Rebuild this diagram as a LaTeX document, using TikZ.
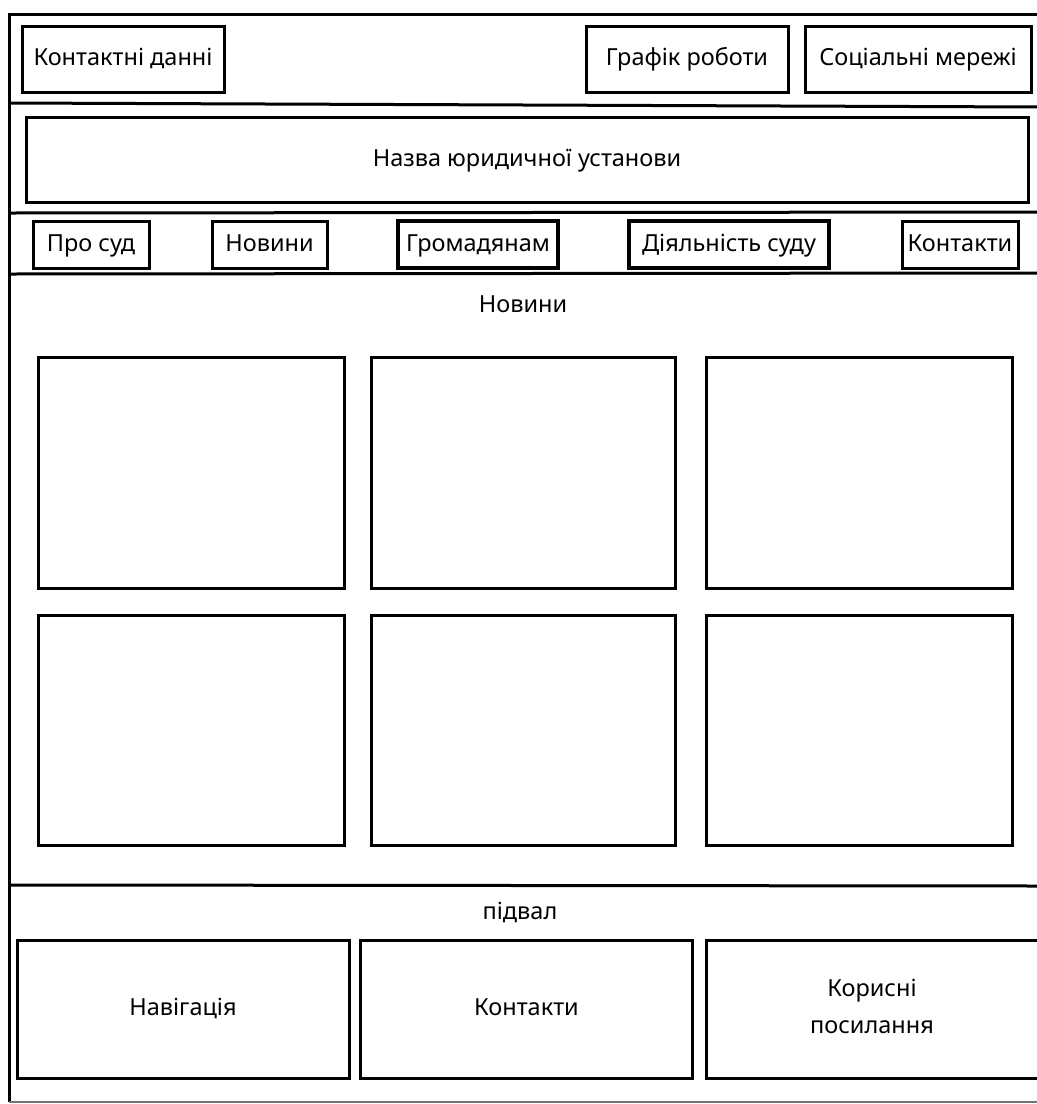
\documentclass[tikz,border=0pt]{standalone}
\usepackage{fontspec}
\setmainfont{Noto Sans}
\begin{document}
\begin{tikzpicture}[x=1pt,y=-1pt,
  fnt/.style={font=\fontsize{23.5}{28}\selectfont, text height=17pt, text depth=4pt},
  box/.style={draw=black, line width=3pt, fill=white, inner sep=0pt, fnt},
  thickbox/.style={box, line width=4.5pt},
  sep/.style={line width=3pt, black},
  lbl/.style={inner sep=0pt, fnt},
  pic/.style={draw=black, line width=3pt, inner sep=0pt}]
\useasboundingbox (0,0) rectangle (1037,1104);
\fill[white] (0,0) rectangle (1037,1104);
% frame
\coordinate (tl) at (9,14);
\coordinate (tr) at (1040,14);
\coordinate (bl) at (9,1102);
\coordinate (br) at (1040,1102);
\draw[sep] (tr) -- (tl) -- (bl);
\draw[line width=2pt, black!55] (bl) -- (br);
% separators
\coordinate (s1l) at (9,103); \coordinate (s1r) at (1040,107);
\coordinate (s2l) at (9,213); \coordinate (s2r) at (1040,212);
\coordinate (s3l) at (9,274); \coordinate (s3r) at (1040,273);
\coordinate (s4l) at (9,885); \coordinate (s4r) at (1040,886);
\draw[sep] (s1l) -- (s1r);
\draw[sep] (s2l) -- (s2r);
\draw[sep] (s3l) -- (s3r);
\draw[sep] (s4l) -- (s4r);
% top row
\node[box, minimum width=202pt, minimum height=66pt] (contact) at (123,59) {Контактні данні};
\node[box, minimum width=202pt, minimum height=66pt] (sched) at (687,59) {Графік роботи};
\node[box, minimum width=226pt, minimum height=66pt] (social) at (918,59) {Соціальні мережі};
% name
\node[box, minimum width=1002pt, minimum height=85pt] (name) at (527,159.5) {Назва юридичної установи};
% nav
\node[box, minimum width=116pt, minimum height=47pt] (about) at (91,244.5) {Про суд};
\node[box, minimum width=115pt, minimum height=47pt] (news) at (269.5,244.5) {Новини};
\node[thickbox, minimum width=160pt, minimum height=47pt] (citizens) at (478,244.5) {Громадянам};
\node[thickbox, minimum width=200pt, minimum height=47pt] (activity) at (729,244.5) {Діяльність суду};
\node[box, minimum width=116pt, minimum height=47pt] (contacts) at (960,244.5) {Контакти};
% news section
\node[lbl] (newshead) at (523,306) {Новини};
\node[pic, minimum width=306pt, minimum height=231pt] (n1) at (191,472.5) {};
\node[pic, minimum width=304pt, minimum height=231pt] (n2) at (523,472.5) {};
\node[pic, minimum width=306pt, minimum height=231pt] (n3) at (859,472.5) {};
\node[pic, minimum width=306pt, minimum height=230pt] (n4) at (191,730) {};
\node[pic, minimum width=304pt, minimum height=230pt] (n5) at (523,730) {};
\node[pic, minimum width=306pt, minimum height=230pt] (n6) at (859,730) {};
% footer
\node[lbl] (footer) at (520,913) {підвал};
\node[box, minimum width=332pt, minimum height=138pt] (fnav) at (183,1009) {Навігація};
\node[box, minimum width=332pt, minimum height=138pt] (fcont) at (526.5,1009) {Контакти};
\node[draw=black, line width=3pt, fill=white, inner sep=0pt, minimum width=332pt, minimum height=138pt] (flinks) at (872,1009) {};
\node[lbl] (flinks1) at (872,990) {Корисні};
\node[lbl] (flinks2) at (872,1027) {посилання};
\end{tikzpicture}
\end{document}
